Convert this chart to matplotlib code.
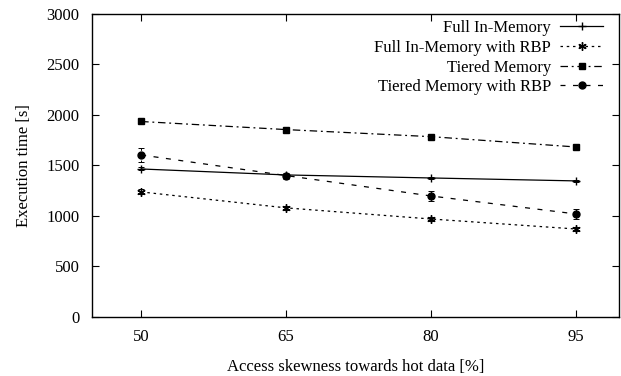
import matplotlib
matplotlib.use("Agg")
import matplotlib.pyplot as plt

skewness = [50, 65, 80, 95]
full_mem = [1465, 1406, 1376, 1347]
full_mem_err = [15, 10, 10, 10]
full_mem_rbp = [1238, 1080, 970, 871]
full_mem_rbp_err = [25, 20, 20, 20]
tiered = [1935, 1855, 1785, 1683]
tiered_err = [10, 10, 10, 10]
tiered_rbp = [1604, 1400, 1198, 1020]
tiered_rbp_err = [70, 30, 50, 50]

labels = ["Full In-Memory", "Full In-Memory with RBP", "Tiered Memory", "Tiered Memory with RBP"]

plt.rcParams["font.family"] = ["Liberation Serif", "DejaVu Serif"]
plt.rcParams["font.size"] = 12

fig = plt.figure(figsize=(6.21, 3.76), dpi=100)
ax = fig.add_axes([0.148, 0.157, 0.849, 0.806])

# gnuplot-ish point types: + , asterisk, filled square, filled circle
series = [
    (full_mem, full_mem_err, "-", "+", 6, labels[0]),
    (full_mem_rbp, full_mem_rbp_err, (0, (2, 3)), (6, 2, 0), 6, labels[1]),
    (tiered, tiered_err, (0, (6, 3, 1.5, 3)), "s", 4.5, labels[2]),
    (tiered_rbp, tiered_rbp_err, (0, (4, 6)), "o", 5, labels[3]),
]

for y, err, ls, mk, ms, lab in series:
    ax.plot(skewness, y, color="black", linestyle=ls, linewidth=0.9,
            marker=mk, markersize=ms, markeredgewidth=1.0, label=lab)
    eb = ax.errorbar(skewness, y, yerr=err, fmt="none", ecolor="black",
                     elinewidth=0.7, capsize=2.5, capthick=0.7)
    eb[2][0].set_linestyle((0, (2, 2)))

ax.set_xlim(44.9, 99.5)
ax.set_ylim(0, 3000)
ax.set_xticks(skewness)
ax.set_yticks(range(0, 3001, 500))
ax.tick_params(direction="in", top=True, right=True, length=5, width=0.8, pad=9)
for s in ax.spines.values():
    s.set_linewidth(1.0)

ax.set_xlabel("Access skewness towards hot data [%]", labelpad=10)
ax.set_ylabel("Execution time [s]", labelpad=10)

leg = ax.legend(loc="upper right", bbox_to_anchor=(0.970, 0.979), frameon=False,
                markerfirst=False, handlelength=2.6, handletextpad=0.55,
                labelspacing=0.22, borderaxespad=0, borderpad=0, fontsize=12)
for t in leg.get_texts():
    t.set_ha("right")
leg._legend_box.align = "right"

fig.savefig("out.png", dpi=100)
